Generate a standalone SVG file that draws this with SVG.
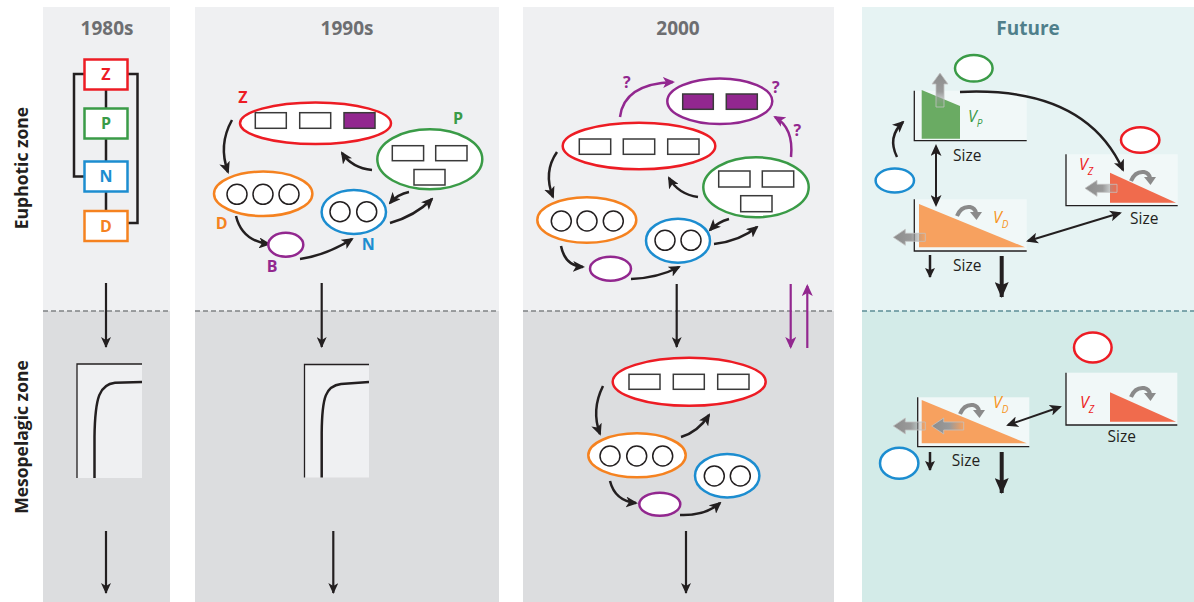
<svg xmlns="http://www.w3.org/2000/svg" width="1194" height="602" viewBox="0 0 1194 602">
<style>
.hdr{font-family:"Open Sans","Liberation Sans",sans-serif;font-weight:bold;font-size:19px;text-anchor:middle;fill:#6d6e71}
.zone{font-family:"Open Sans","Liberation Sans",sans-serif;font-weight:bold;font-size:17.5px;text-anchor:middle;fill:#231f20}
.lbl{font-family:"Open Sans","Liberation Sans",sans-serif;font-weight:bold;font-size:16px;text-anchor:middle}
.size{font-family:"Open Sans","Liberation Sans",sans-serif;font-size:15.5px;text-anchor:middle;fill:#231f20}
.vt{font-family:"Open Sans","Liberation Sans",sans-serif;font-style:italic;font-size:16px}
.vs{font-family:"Open Sans","Liberation Sans",sans-serif;font-style:italic;font-size:10px}
.box{fill:#fff;stroke-width:2.5}
.ell{fill:#fff;stroke-width:2.5}
.sq{fill:#fff;stroke:#3a3a3a;stroke-width:1.5}
.sqp{fill:#92278f;stroke:#3a3a3a;stroke-width:1.5}
.cir{fill:#fff;stroke:#231f20;stroke-width:1.5}
.red{stroke:#ed1c24}.grn{stroke:#3a9b47}.blu{stroke:#1c8dd0}.org{stroke:#f58220}.pur{stroke:#92278f}
.ln{fill:none;stroke:#231f20;stroke-width:2.5}
.arr{fill:none;stroke:#231f20;stroke-width:2.2;marker-end:url(#ah)}
.carr{fill:none;stroke:#231f20;stroke-width:2.5;marker-end:url(#ah2)}
.parr{fill:none;stroke:#92278f;stroke-width:2.5;marker-end:url(#ahp)}
.dbl{fill:none;stroke:#231f20;stroke-width:2;marker-end:url(#ah2);marker-start:url(#ah2)}
.axis{fill:none;stroke:#231f20;stroke-width:1.3}
.curve{fill:none;stroke:#231f20;stroke-width:2.5}
.dash{stroke:#808285;stroke-width:1.3;stroke-dasharray:5 3}
.fbox{fill:#f1f8f8}
.garr{stroke:#c2c2c2;stroke-width:0.8}
</style>
<defs>
<marker id="ah" viewBox="0 0 11 10" refX="10" refY="5" markerWidth="11" markerHeight="10" markerUnits="userSpaceOnUse" orient="auto"><path d="M0,0 L11,5 L0,10 L3,5 z" fill="#231f20"/></marker>
<marker id="ah2" viewBox="0 0 12 11" refX="10" refY="5.5" markerWidth="12" markerHeight="11" markerUnits="userSpaceOnUse" orient="auto-start-reverse"><path d="M0,0 L12,5.5 L0,11 L3,5.5 z" fill="#231f20"/></marker>
<marker id="ahp" viewBox="0 0 12 11" refX="10" refY="5.5" markerWidth="12" markerHeight="11" markerUnits="userSpaceOnUse" orient="auto"><path d="M0,0 L12,5.5 L0,11 L3,5.5 z" fill="#92278f"/></marker>
<marker id="ahs" viewBox="0 0 10 10" refX="9" refY="5" markerWidth="10" markerHeight="10" markerUnits="userSpaceOnUse" orient="auto"><path d="M0,0 L10,5 L0,10 L2,5 z" fill="#231f20"/></marker>
<marker id="ahb" viewBox="0 0 16 14" refX="15" refY="7" markerWidth="16" markerHeight="14" markerUnits="userSpaceOnUse" orient="auto"><path d="M0,0 L16,7 L0,14 L3,7 z" fill="#231f20"/></marker>
<linearGradient id="gl" x1="0" y1="0" x2="1" y2="0"><stop offset="0" stop-color="#8c8c8c"/><stop offset="0.55" stop-color="#9a9a9a"/><stop offset="1" stop-color="#9a9a9a" stop-opacity="0"/></linearGradient>
<linearGradient id="gu" x1="0" y1="0" x2="0" y2="1"><stop offset="0" stop-color="#8c8c8c"/><stop offset="0.55" stop-color="#9a9a9a"/><stop offset="1" stop-color="#9a9a9a" stop-opacity="0"/></linearGradient>
<g id="loop"><path d="M0,11 Q4,1 13,2 Q18,3 19,8" fill="none" stroke="#8a8a8a" stroke-width="4"/><path d="M13,7 L25,7 L19.5,15 z" fill="#8a8a8a"/></g>
<polygon id="larr" points="0,0 12,-8 12,-4 32,-4 32,4 12,4 12,8" fill="url(#gl)" class="garr"/>
</defs>

<!-- panels -->
<g id="panels">
<rect x="43" y="7" width="127" height="304" fill="#eff0f2"/>
<rect x="43" y="311" width="127" height="291" fill="#dcdddf"/>
<rect x="195" y="7" width="304" height="304" fill="#eff0f2"/>
<rect x="195" y="311" width="304" height="291" fill="#dcdddf"/>
<rect x="523" y="7" width="311" height="304" fill="#eff0f2"/>
<rect x="523" y="311" width="311" height="291" fill="#dcdddf"/>
<rect x="862" y="7" width="332" height="304" fill="#e6f3f3"/>
<rect x="862" y="311" width="332" height="291" fill="#d3ebe8"/>
<line x1="43" y1="311" x2="170" y2="311" class="dash"/>
<line x1="195" y1="311" x2="499" y2="311" class="dash"/>
<line x1="523" y1="311" x2="834" y2="311" class="dash"/>
<line x1="862" y1="311" x2="1194" y2="311" class="dash" style="stroke:#5e8e96"/>
</g>

<g id="headers">
<text x="107" y="35" class="hdr">1980s</text>
<text x="347" y="35" class="hdr">1990s</text>
<text x="678" y="35" class="hdr">2000</text>
<text x="1028" y="35" class="hdr" style="fill:#4f7f8b">Future</text>
<text class="zone" transform="translate(28,168) rotate(-90)">Euphotic zone</text>
<text class="zone" transform="translate(28,437) rotate(-90)">Mesopelagic zone</text>
</g>

<!-- 1980s -->
<g id="connectors-1980s">
<path d="M106,89 V108 M106,139 V161 M106,192 V211" class="ln"/>
<path d="M84,74 H74 V176.5 H84" class="ln"/>
<path d="M128,74 H137.5 V223 H128" class="ln"/>
<line x1="106" y1="283" x2="106" y2="347" class="arr"/>
<line x1="106" y1="531" x2="106" y2="593" class="arr"/>
</g>
<g id="n80-Z"><rect x="84.5" y="59.5" width="43" height="30" class="box red"/><text x="106" y="80" class="lbl" fill="#ed1c24">Z</text></g>
<g id="n80-P"><rect x="84.5" y="108.5" width="43" height="30" class="box grn"/><text x="106" y="129" class="lbl" fill="#3a9b47">P</text></g>
<g id="n80-N"><rect x="84.5" y="161.5" width="43" height="30" class="box blu"/><text x="106" y="182" class="lbl" fill="#1c8dd0">N</text></g>
<g id="n80-D"><rect x="84.5" y="211" width="43" height="30" class="box org"/><text x="106" y="231.5" class="lbl" fill="#f58220">D</text></g>
<g id="chart80">
<rect x="77" y="364" width="65" height="114" fill="#eff0f2"/>
<path d="M77,478 V364 H142" class="axis"/>
<path d="M94.5,478 V437 C95,396 100,384.5 115,382.8 L142,382" class="curve"/>
</g>

<!-- 1990s -->
<g id="connectors-1990s">
<path d="M232,120 Q218,145 228,172" class="carr"/>
<path d="M236,216 Q242,241 269,244" class="carr"/>
<path d="M300,259 Q327,255 352,239" class="carr"/>
<path d="M390,223 Q415,216 432,199" class="carr"/>
<path d="M409,192 Q398,194 390,203" class="carr"/>
<path d="M372,170 Q352,168 342,153" class="carr"/>
<line x1="321.7" y1="283" x2="321.7" y2="347" class="arr"/>
<line x1="333.3" y1="531" x2="333.3" y2="593" class="arr"/>
</g>
<g id="n90-Z">
<ellipse cx="315.5" cy="123.3" rx="75.5" ry="20.7" class="ell red"/>
<rect x="255.3" y="112.7" width="31" height="15.6" class="sq"/>
<rect x="299.7" y="112.7" width="31" height="15.6" class="sq"/>
<rect x="344" y="112.7" width="31" height="15.6" class="sqp"/>
<text x="243" y="102.5" class="lbl" fill="#ed1c24">Z</text>
</g>
<g id="n90-P">
<ellipse cx="429.8" cy="159.3" rx="52.5" ry="30" class="ell grn"/>
<rect x="392.3" y="145.7" width="31.3" height="15" class="sq"/>
<rect x="435.7" y="145.7" width="31.3" height="15" class="sq"/>
<rect x="414" y="169.5" width="31" height="15.5" class="sq"/>
<text x="458" y="124" class="lbl" fill="#3a9b47">P</text>
</g>
<g id="n90-D">
<ellipse cx="263.2" cy="193.8" rx="49.2" ry="22.2" class="ell org"/>
<circle cx="237" cy="194.3" r="10" class="cir"/>
<circle cx="263" cy="194.3" r="10" class="cir"/>
<circle cx="289" cy="194.3" r="10" class="cir"/>
<text x="221.7" y="229" class="lbl" fill="#f58220">D</text>
</g>
<g id="n90-B">
<ellipse cx="285.8" cy="244.7" rx="17.5" ry="12" class="ell pur"/>
<text x="272" y="272" class="lbl" fill="#92278f">B</text>
</g>
<g id="n90-N">
<ellipse cx="353.8" cy="212" rx="32.2" ry="22" class="ell blu"/>
<circle cx="340" cy="211.7" r="10" class="cir"/>
<circle cx="366.7" cy="211.7" r="10" class="cir"/>
<text x="368.3" y="250" class="lbl" fill="#1c8dd0">N</text>
</g>
<g id="chart90">
<rect x="304.5" y="364.5" width="64.5" height="113" fill="#eff0f2"/>
<path d="M304.5,477.5 V364.5 H369" class="axis"/>
<path d="M321.7,477.5 V433 C322,396 326,386 341,384 L369,382" class="curve"/>
</g>

<!-- 2000 -->
<g id="connectors-2000">
<path d="M557,152 Q543,172 553,197" class="carr"/>
<path d="M561,246 Q565,266 583,267" class="carr"/>
<path d="M631,279 Q658,278 679,267" class="carr"/>
<path d="M714,244 Q740,241 757,227" class="carr"/>
<path d="M729,219 Q718,222 710,230" class="carr"/>
<path d="M698,197 Q678,194 669,178" class="carr"/>
<path d="M620,117 Q624,84 673,82" class="parr"/>
<path d="M791,157 Q794,128 775,117" class="parr"/>
<line x1="676.7" y1="284" x2="676.7" y2="347" class="arr"/>
<line x1="790.7" y1="284" x2="790.7" y2="347" class="arr" style="stroke:#92278f;marker-end:url(#ahp)"/>
<line x1="807.3" y1="348" x2="807.3" y2="286" class="arr" style="stroke:#92278f;marker-end:url(#ahp)"/>
<path d="M603,386 Q591,410 600,434" class="carr"/>
<path d="M681,437 Q698,432 709,415" class="carr"/>
<path d="M610,481 Q615,501 636,503" class="carr"/>
<path d="M680,515 Q705,516 720,503" class="carr"/>
<line x1="686" y1="531" x2="686" y2="593" class="arr"/>
</g>
<g id="n00-X">
<ellipse cx="719.8" cy="101.2" rx="52.5" ry="22.8" class="ell pur"/>
<rect x="682.7" y="94" width="30.6" height="15.3" class="sqp"/>
<rect x="726.3" y="94" width="31" height="15.3" class="sqp"/>
<text x="626.7" y="88" class="lbl" fill="#92278f">?</text>
<text x="775.7" y="93" class="lbl" fill="#92278f">?</text>
<text x="797.3" y="136" class="lbl" fill="#92278f">?</text>
</g>
<g id="n00-Z">
<ellipse cx="639" cy="146" rx="76.3" ry="23.3" class="ell red"/>
<rect x="579.3" y="139" width="31.4" height="15.3" class="sq"/>
<rect x="623.3" y="139" width="31.4" height="15.3" class="sq"/>
<rect x="667.7" y="139" width="31.3" height="15.3" class="sq"/>
</g>
<g id="n00-P">
<ellipse cx="756" cy="187.3" rx="52.7" ry="30" class="ell grn"/>
<rect x="718.7" y="171" width="31.3" height="16" class="sq"/>
<rect x="762.3" y="171" width="31.4" height="16" class="sq"/>
<rect x="740.7" y="195.7" width="31.3" height="16" class="sq"/>
</g>
<g id="n00-D">
<ellipse cx="586.8" cy="220" rx="49.5" ry="22.7" class="ell org"/>
<circle cx="561.3" cy="221" r="10" class="cir"/>
<circle cx="587" cy="221" r="10" class="cir"/>
<circle cx="613.3" cy="221" r="10" class="cir"/>
</g>
<g id="n00-N">
<ellipse cx="678" cy="240.7" rx="32" ry="22" class="ell blu"/>
<circle cx="665" cy="240.3" r="10" class="cir"/>
<circle cx="691" cy="240.3" r="10" class="cir"/>
</g>
<g id="n00-B"><ellipse cx="610.5" cy="268.7" rx="20.5" ry="12" class="ell pur"/></g>
<g id="n00m-Z">
<ellipse cx="689.2" cy="381.8" rx="76.5" ry="24" class="ell red"/>
<rect x="629" y="374.3" width="31" height="15" class="sq"/>
<rect x="673.3" y="374.3" width="31" height="15" class="sq"/>
<rect x="717.7" y="374.3" width="31.3" height="15" class="sq"/>
</g>
<g id="n00m-D">
<ellipse cx="637" cy="455.3" rx="48.7" ry="22" class="ell org"/>
<circle cx="610" cy="456" r="10" class="cir"/>
<circle cx="636.7" cy="456" r="10" class="cir"/>
<circle cx="662.7" cy="456" r="10" class="cir"/>
</g>
<g id="n00m-N">
<ellipse cx="727.2" cy="475.7" rx="32.2" ry="21.7" class="ell blu"/>
<circle cx="714.3" cy="476" r="10" class="cir"/>
<circle cx="740.3" cy="476" r="10" class="cir"/>
</g>
<g id="n00m-B"><ellipse cx="659.8" cy="504.2" rx="20.5" ry="11.5" class="ell pur"/></g>

<!-- Future -->
<g id="fP">
<ellipse cx="973.8" cy="68.3" rx="18.8" ry="13.3" class="ell grn"/>
<rect x="914.3" y="90.7" width="112.4" height="50" class="fbox"/>
<polygon points="921.7,90 960,106 960,138.7 921.7,138.7" fill="#6aab63"/>
<path d="M914.3,90.7 V140.7 H1026.7" class="axis"/>
<polygon points="940,73 948,84 944,84 944,107 936,107 936,84 932,84" fill="url(#gu)" class="garr"/>
<text x="968" y="122" class="vt" fill="#3a9b47">V<tspan class="vs" dy="5">P</tspan></text>
<text x="967.3" y="161" class="size">Size</text>
</g>
<g id="fZ">
<ellipse cx="1140.2" cy="140" rx="19.2" ry="12.7" class="ell red"/>
<rect x="1066" y="154.3" width="111.7" height="51.4" class="fbox"/>
<polygon points="1110,172.7 1176,202.7 1110,202.7" fill="#f06b4d"/>
<path d="M1066,154.3 V205.7 H1177.7" class="axis"/>
<use href="#larr" x="1085" y="188.3"/>
<use href="#loop" x="1131" y="170"/>
<text x="1079" y="170" class="vt" fill="#ed1c24">V<tspan class="vs" dy="5">Z</tspan></text>
<text x="1144.3" y="224" class="size">Size</text>
</g>
<g id="fN"><ellipse cx="894.8" cy="180.5" rx="19.2" ry="12" class="ell blu"/></g>
<g id="fD">
<rect x="914.3" y="199.3" width="112.4" height="51.7" class="fbox"/>
<polygon points="919,204 1025,247.3 919,247.3" fill="#f7a15f"/>
<path d="M914.3,199.3 V251 H1026.7" class="axis"/>
<use href="#larr" x="893.3" y="237.3"/>
<use href="#loop" x="957" y="205"/>
<text x="993" y="223" class="vt" fill="#f7941d">V<tspan class="vs" dy="5">D</tspan></text>
<text x="967.3" y="271" class="size">Size</text>
</g>
<g id="fmZ">
<ellipse cx="1092.8" cy="347.5" rx="18.8" ry="15" class="ell red"/>
<rect x="1066" y="372.7" width="111.3" height="52.3" class="fbox"/>
<polygon points="1110,392.3 1176,421.7 1110,421.7" fill="#f06b4d"/>
<path d="M1066,372.7 V425 H1177.3" class="axis"/>
<use href="#loop" x="1131" y="386"/>
<text x="1080" y="408" class="vt" fill="#ed1c24">V<tspan class="vs" dy="5">Z</tspan></text>
<text x="1121.7" y="442" class="size">Size</text>
</g>
<g id="fmD">
<rect x="917.7" y="397.3" width="111.6" height="49.4" class="fbox"/>
<polygon points="921.7,400 1026.7,443.3 921.7,443.3" fill="#f7a15f"/>
<path d="M917.7,397.3 V446.7 H1029.3" class="axis"/>
<use href="#larr" x="931.7" y="426"/>
<use href="#larr" x="893.3" y="426"/>
<use href="#loop" x="960" y="403"/>
<text x="993" y="408" class="vt" fill="#f7941d">V<tspan class="vs" dy="5">D</tspan></text>
<text x="966" y="466" class="size">Size</text>
</g>
<g id="fmN"><ellipse cx="899.2" cy="463.3" rx="19.2" ry="15.5" class="ell blu"/></g>
<g id="connectors-future">
<path d="M960,92 Q1085,86 1123,170" class="carr"/>
<path d="M897,157 Q887,137 903,122" class="carr"/>
<line x1="936" y1="146" x2="936" y2="205" class="dbl"/>
<line x1="1028" y1="241" x2="1120" y2="213" class="dbl"/>
<line x1="930" y1="255" x2="930" y2="277" style="stroke:#231f20;stroke-width:2.5;marker-end:url(#ahs)"/>
<line x1="1001.7" y1="256" x2="1001.7" y2="297" style="stroke:#231f20;stroke-width:4;marker-end:url(#ahb)"/>
<line x1="1008" y1="425" x2="1060" y2="407" class="dbl"/>
<line x1="930" y1="452" x2="930" y2="470" style="stroke:#231f20;stroke-width:2.5;marker-end:url(#ahs)"/>
<line x1="1001.7" y1="452" x2="1001.7" y2="493" style="stroke:#231f20;stroke-width:4;marker-end:url(#ahb)"/>
</g>
</svg>
